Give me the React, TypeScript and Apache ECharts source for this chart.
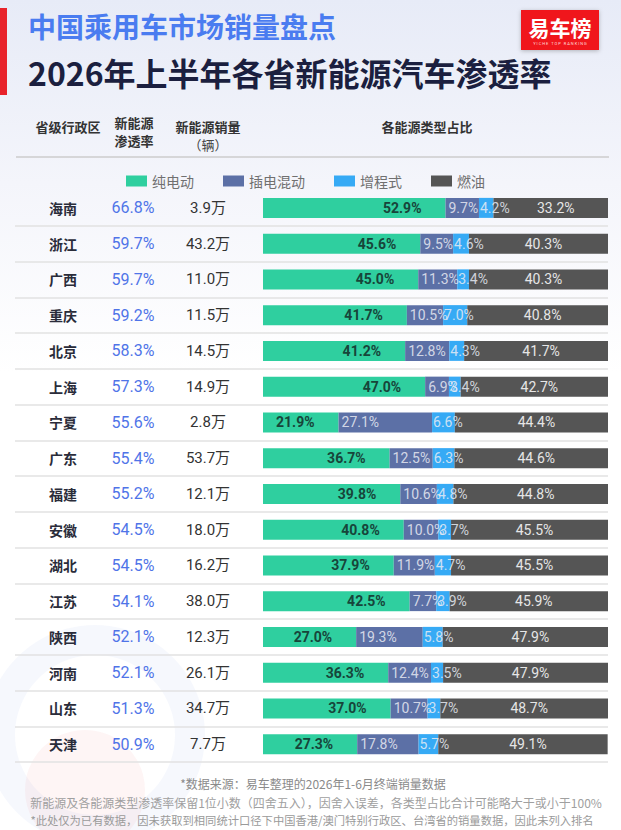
import React, { useEffect, useRef } from 'react';
import * as echarts from 'echarts';

const provinces = ['海南', '浙江', '广西', '重庆', '北京', '上海', '宁夏', '广东', '福建', '安徽', '湖北', '江苏', '陕西', '河南', '山东', '天津'];
const penetrationRates = [66.8, 59.7, 59.7, 59.2, 58.3, 57.3, 55.6, 55.4, 55.2, 54.5, 54.5, 54.1, 52.1, 52.1, 51.3, 50.9];
const nevSalesWan = [3.9, 43.2, 11.0, 11.5, 14.5, 14.9, 2.8, 53.7, 12.1, 18.0, 16.2, 38.0, 12.3, 26.1, 34.7, 7.7];
const bevShare = [52.9, 45.6, 45.0, 41.7, 41.2, 47.0, 21.9, 36.7, 39.8, 40.8, 37.9, 42.5, 27.0, 36.3, 37.0, 27.3];
const phevShare = [9.7, 9.5, 11.3, 10.5, 12.8, 6.9, 27.1, 12.5, 10.6, 10.0, 11.9, 7.7, 19.3, 12.4, 10.7, 17.8];
const erevShare = [4.2, 4.6, 3.4, 7.0, 4.3, 3.4, 6.6, 6.3, 4.8, 3.7, 4.7, 3.9, 5.8, 3.5, 3.7, 5.7];
const iceShare = [33.2, 40.3, 40.3, 40.8, 41.7, 42.7, 44.4, 44.6, 44.8, 45.5, 45.5, 45.9, 47.9, 47.9, 48.7, 49.1];
const seriesNames = ['纯电动', '插电混动', '增程式', '燃油'];
const seriesColors = ['#2fcf9f', '#5c70a6', '#36aaf5', '#555555'];

const CJK = '"Noto Sans CJK SC", "Noto Sans", sans-serif';
const NUM = 'Roboto, "Noto Sans CJK SC", sans-serif';

export default function App() {
  const ref = useRef<HTMLDivElement>(null);

  useEffect(() => {
    document.body.style.margin = '0';
    if (!ref.current) return;
    const chart = echarts.init(ref.current, undefined, { renderer: 'svg' });

    const gridLeft = 15;
    const gridRightX = 608;
    const barStartX = 263;
    const xMax = 100;
    const xMin = -xMax * (barStartX - gridLeft) / (gridRightX - barStartX);

    const pct = (p: any) => Number(p.value).toFixed(1) + '%';

    const makeSeries = (name: string, data: number[], color: string, label: any) => ({
      name,
      type: 'bar',
      stack: 'share',
      barWidth: 20,
      data,
      itemStyle: { color },
      label: { show: true, formatter: pct, fontFamily: NUM, fontSize: 14, ...label },
      emphasis: { disabled: true },
    });

    const option: any = {
      animation: false,
      backgroundColor: new echarts.graphic.LinearGradient(0, 0, 0, 1, [
        { offset: 0, color: '#e7ebf7' },
        { offset: 0.22, color: '#f4f5fb' },
        { offset: 0.45, color: '#ffffff' },
        { offset: 1, color: '#ffffff' },
      ]),
      textStyle: { fontFamily: CJK },
      legend: {
        data: seriesNames,
        left: 121,
        top: 169,
        icon: 'rect',
        itemWidth: 21,
        itemHeight: 11,
        itemGap: 29,
        selectedMode: false,
        textStyle: { fontSize: 14, color: '#707070', fontFamily: CJK },
      },
      grid: { left: gridLeft, right: 621 - gridRightX, top: 190, bottom: 830 - 762, containLabel: false },
      xAxis: {
        type: 'value',
        min: xMin,
        max: xMax,
        show: false,
      },
      yAxis: {
        type: 'category',
        data: provinces,
        inverse: true,
        axisLine: { show: false },
        axisTick: { show: false },
        splitLine: {
          show: true,
          interval: (idx: number) => idx !== 0,
          lineStyle: { color: '#e2e2e2', width: 1.5 },
        },
        axisLabel: {
          inside: true,
          align: 'left',
          margin: 0,
          interval: 0,
          formatter: (value: string, idx: number) =>
            `{p|${value}}{r|${penetrationRates[idx].toFixed(1)}%}{s|${nevSalesWan[idx].toFixed(1)}万}`,
          rich: {
            p: { width: 96, align: 'center', fontSize: 14, fontWeight: 'bold', color: '#2a2c3a', fontFamily: CJK },
            r: { width: 44, align: 'center', fontSize: 16, color: '#4f74e8', fontFamily: NUM },
            s: { width: 106, align: 'center', fontSize: 15, color: '#333333', fontFamily: NUM },
          },
        },
      },
      series: [
        makeSeries(seriesNames[0], bevShare, seriesColors[0], {
          position: 'insideRight', distance: 24, fontWeight: 'bold', color: '#17453a',
        }),
        makeSeries(seriesNames[1], phevShare, seriesColors[1], {
          position: 'insideLeft', distance: 3, color: 'rgba(225,228,238,0.9)',
        }),
        makeSeries(seriesNames[2], erevShare, seriesColors[2], {
          position: 'insideLeft', distance: 1, color: 'rgba(232,236,244,0.85)',
        }),
        makeSeries(seriesNames[3], iceShare, seriesColors[3], {
          position: 'inside', offset: [5, 0], color: '#e6e6e6',
        }),
      ],
      graphic: [
        { type: 'ring', shape: { cx: 95, cy: 735, r: 110, r0: 80 }, style: { fill: 'rgba(80,110,220,0.05)' }, silent: true, z: -1 },
        { type: 'circle', shape: { cx: 85, cy: 790, r: 60 }, style: { fill: 'rgba(230,60,60,0.05)' }, silent: true, z: -1 },
        { type: 'rect', shape: { x: 0, y: 8, width: 7, height: 87 }, style: { fill: '#e8232b' } },
        {
          type: 'text', x: 28, y: 26,
          style: { text: '中国乘用车市场销量盘点', font: `bold 28px ${CJK}`, fill: '#4a7cf0', textVerticalAlign: 'middle' },
        },
        {
          type: 'text', x: 28, y: 72,
          style: { text: '2026年上半年各省新能源汽车渗透率', font: `bold 32px ${CJK}`, fill: '#1b1f3f', textVerticalAlign: 'middle' },
        },
        {
          type: 'rect', shape: { x: 521, y: 10, width: 78, height: 40 },
          style: { fill: '#f0191e', shadowBlur: 4, shadowColor: 'rgba(0,0,0,0.25)', shadowOffsetY: 1 },
        },
        {
          type: 'text', x: 560, y: 27,
          style: { text: '易车榜', font: `bold 21px ${CJK}`, fill: '#ffffff', textAlign: 'center', textVerticalAlign: 'middle' },
        },
        {
          type: 'text', x: 560, y: 43,
          style: { text: 'Y I C H E   T O P   R A N K I N G', font: `4px ${NUM}`, fill: '#ffdada', textAlign: 'center', textVerticalAlign: 'middle' },
        },
        {
          type: 'text', x: 68, y: 126,
          style: { text: '省级行政区', font: `bold 13px ${CJK}`, fill: '#333333', textAlign: 'center', textVerticalAlign: 'middle' },
        },
        {
          type: 'text', x: 134, y: 122,
          style: { text: '新能源', font: `bold 13px ${CJK}`, fill: '#333333', textAlign: 'center', textVerticalAlign: 'middle' },
        },
        {
          type: 'text', x: 134, y: 140,
          style: { text: '渗透率', font: `bold 13px ${CJK}`, fill: '#333333', textAlign: 'center', textVerticalAlign: 'middle' },
        },
        {
          type: 'text', x: 208, y: 126,
          style: { text: '新能源销量', font: `bold 13px ${CJK}`, fill: '#333333', textAlign: 'center', textVerticalAlign: 'middle' },
        },
        {
          type: 'text', x: 208, y: 144,
          style: { text: '（辆）', font: `13px ${CJK}`, fill: '#444444', textAlign: 'center', textVerticalAlign: 'middle' },
        },
        {
          type: 'text', x: 427, y: 126,
          style: { text: '各能源类型占比', font: `bold 13px ${CJK}`, fill: '#333333', textAlign: 'center', textVerticalAlign: 'middle' },
        },
        {
          type: 'line', shape: { x1: 16, y1: 157, x2: 609, y2: 157 },
          style: { stroke: '#cccccc', lineWidth: 1.5 },
        },
        {
          type: 'text', x: 313, y: 783,
          style: { text: '*数据来源：易车整理的2026年1-6月终端销量数据', font: `12px ${CJK}`, fill: '#8a8a8a', textAlign: 'center', textVerticalAlign: 'middle' },
        },
        {
          type: 'text', x: 316, y: 802,
          style: { text: '新能源及各能源类型渗透率保留1位小数（四舍五入），因舍入误差，各类型占比合计可能略大于或小于100%', font: `12px ${CJK}`, fill: '#a0a0a0', textAlign: 'center', textVerticalAlign: 'middle' },
        },
        {
          type: 'text', x: 312, y: 820,
          style: { text: '*此处仅为已有数据，因未获取到相同统计口径下中国香港/澳门特别行政区、台湾省的销量数据，因此未列入排名', font: `11.3px ${CJK}`, fill: '#9a9a9a', textAlign: 'center', textVerticalAlign: 'middle' },
        },
      ],
    };

    chart.setOption(option);
    return () => chart.dispose();
  }, []);

  return <div ref={ref} style={{ width: 621, height: 830 }} />;
}
